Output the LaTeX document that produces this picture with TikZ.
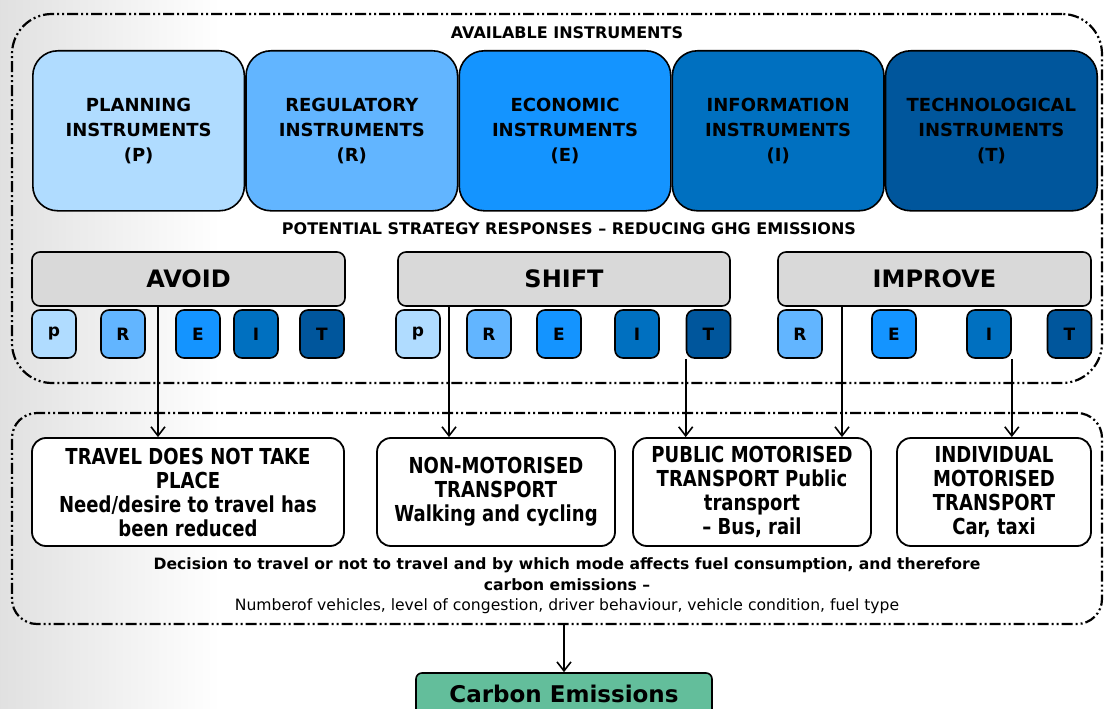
\documentclass[tikz,border=0pt]{standalone}
\usepackage{fontspec}
\setmainfont{DejaVu Sans}
\newfontfamily\heavyfont[FakeStretch=0.82]{DejaVu Sans}
\usetikzlibrary{arrows.meta, positioning}
\tikzset{>={Straight Barb[length=9pt,width=14pt]}}

\definecolor{planC}{RGB}{176,220,255}
\definecolor{regC}{RGB}{98,181,255}
\definecolor{ecoC}{RGB}{20,148,255}
\definecolor{infC}{RGB}{0,112,192}
\definecolor{tecC}{RGB}{0,86,156}
\definecolor{stratC}{RGB}{217,217,217}
\definecolor{carbC}{RGB}{99,190,155}

\tikzset{
  frame/.style={draw, line width=2.2pt, dash pattern=on 11pt off 3pt on 2pt off 3pt on 2pt off 3pt},
  heading/.style={font=\fontsize{16}{18}\selectfont\bfseries},
  instr/.style={draw, line width=1.6pt, rounded corners=25pt, minimum width=211.6pt,
    minimum height=160pt, align=center, font=\fontsize{18}{25}\selectfont\bfseries},
  strat/.style={draw, line width=1.6pt, fill=stratC, rounded corners=8pt, minimum height=54pt,
    font=\fontsize{24}{28}\selectfont\bfseries},
  tag/.style={draw, line width=1.6pt, rounded corners=8pt, minimum width=44pt, minimum height=48pt,
    font=\fontsize{17}{18}\selectfont\bfseries},
  mode/.style={draw, line width=1.8pt, fill=white, rounded corners=14pt, minimum height=108pt,
    align=center, font=\heavyfont\fontsize{22}{24}\selectfont\bfseries},
  arr/.style={->, line width=1.6pt}
}

\begin{document}
\begin{tikzpicture}[x=1pt, y=-1pt]
\useasboundingbox (0,0) rectangle (1104,709);
\fill[white] (0,0) rectangle (1104,709);
\shade[left color=black!12, right color=white] (0,0) rectangle (220,709);

% instruments
\node[frame, rounded corners=40pt, minimum width=1090pt, minimum height=369pt] (avail) at (557,198.5) {};
\node[heading] (availT) at (567,33) {AVAILABLE INSTRUMENTS};
\node[instr, fill=planC, anchor=north west] (P) at (32,50) {PLANNING\\INSTRUMENTS\\(P)};
\node[instr, fill=regC, right=0pt of P] (R) {REGULATORY\\INSTRUMENTS\\(R)};
\node[instr, fill=ecoC, right=0pt of R] (E) {ECONOMIC\\INSTRUMENTS\\(E)};
\node[instr, fill=infC, right=0pt of E] (I) {INFORMATION\\INSTRUMENTS\\(I)};
\node[instr, fill=tecC, right=0pt of I] (T) {TECHNOLOGICAL\\INSTRUMENTS\\(T)};
\node[heading] (potT) at (569,229) {POTENTIAL STRATEGY RESPONSES – REDUCING GHG EMISSIONS};

% strategies
\node[strat, minimum width=313pt] (avoid) at (188.5,279) {AVOID};
\node[strat, minimum width=332pt] (shift) at (564,279) {SHIFT};
\node[strat, minimum width=313pt] (improve) at (934.5,279) {IMPROVE};

\node[tag, fill=planC] (aP) at (54,334) {p};
\node[tag, fill=regC] (aR) at (123,334) {R};
\node[tag, fill=ecoC] (aE) at (198,334) {E};
\node[tag, fill=infC] (aI) at (256,334) {I};
\node[tag, fill=tecC] (aT) at (322,334) {T};

\node[tag, fill=planC] (sP) at (418,334) {p};
\node[tag, fill=regC] (sR) at (489,334) {R};
\node[tag, fill=ecoC] (sE) at (559,334) {E};
\node[tag, fill=infC] (sI) at (637,334) {I};
\node[tag, fill=tecC] (sT) at (708.5,334) {T};

\node[tag, fill=regC] (iR) at (800,334) {R};
\node[tag, fill=ecoC] (iE) at (894,334) {E};
\node[tag, fill=infC] (iI) at (989,334) {I};
\node[tag, fill=tecC] (iT) at (1069.5,334) {T};

% modes
\node[frame, rounded corners=25pt, minimum width=1090pt, minimum height=211pt] (modes) at (557,518.5) {};
\node[mode, minimum width=312pt] (travel) at (188,492) {TRAVEL DOES NOT TAKE\\PLACE\\Need/desire to travel has\\been reduced};
\node[mode, minimum width=238pt] (nonmot) at (496,492) {NON-MOTORISED\\TRANSPORT\\Walking and cycling};
\node[mode, minimum width=238pt] (public) at (752,492) {PUBLIC MOTORISED\\TRANSPORT Public\\transport\\– Bus, rail};
\node[mode, minimum width=194pt] (indiv) at (994,492) {INDIVIDUAL\\MOTORISED\\TRANSPORT\\Car, taxi};

\node[align=center, font=\fontsize{15.6}{20.5}\selectfont] (decT) at (567,586)
  {\textbf{Decision to travel or not to travel and by which mode affects fuel consumption, and therefore}\\
   \textbf{carbon emissions –}\\
   Numberof vehicles, level of congestion, driver behaviour, vehicle condition, fuel type};

\node[draw, line width=1.6pt, fill=carbC, rounded corners=6pt, minimum width=296pt, minimum height=42pt,
  font=\fontsize{23}{26}\selectfont\bfseries] (carbon) at (564,694) {Carbon Emissions};

% connectors
\coordinate (avA) at ([xshift=-30.5pt]avoid.south);
\coordinate (shA) at ([xshift=-115pt]shift.south);
\coordinate (imA) at ([xshift=-92.5pt]improve.south);
\draw[arr] (avA) -- (avA |- travel.north);
\draw[arr] (shA) -- (shA |- nonmot.north);
\draw[arr] (sT.south west) -- (sT.south west |- public.north);
\draw[arr] (imA) -- (imA |- public.north);
\draw[arr] (iI.south east) -- (iI.south east |- indiv.north);
\draw[arr] (modes.south -| carbon.north) -- (carbon.north);
\end{tikzpicture}
\end{document}
